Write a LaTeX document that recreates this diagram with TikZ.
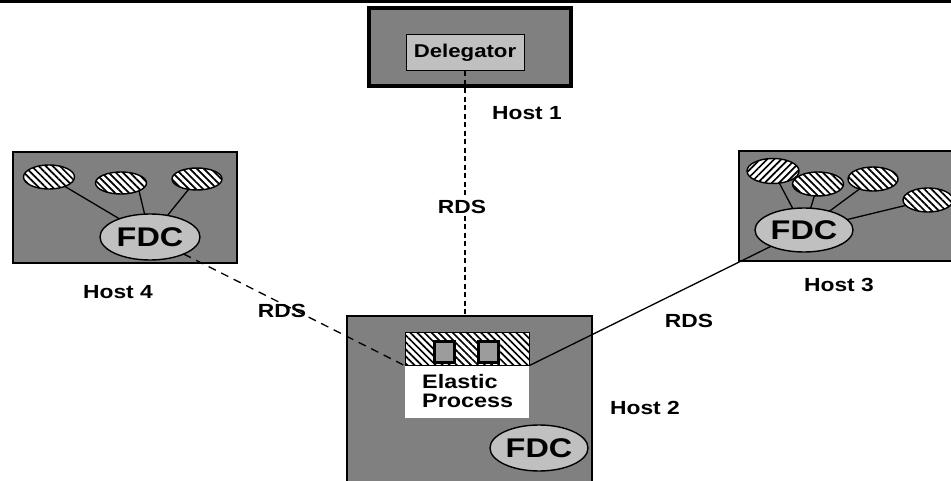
\documentclass[tikz,border=0pt]{standalone}
\usepackage{fontspec}
\setmainfont[FakeStretch=1.2]{Liberation Sans}
\usetikzlibrary{shapes.geometric,patterns.meta}
\definecolor{hostgray}{HTML}{808080}
\definecolor{lightg}{HTML}{C0C0C0}
\definecolor{midg}{HTML}{9C9C9C}
\begin{document}
\begin{tikzpicture}[x=1pt,y=-1pt,
  hostbox/.style={draw=black, fill=hostgray, line width=1.3pt, inner sep=0, outer sep=0},
  hatchNW/.style={ellipse, draw=black, line width=1.4pt, inner sep=0, outer sep=0,
     minimum width=51pt, minimum height=24pt, preaction={fill=white},
     pattern={Lines[angle=-45,distance=5pt,line width=1.7pt]}},
  hatchNE/.style={hatchNW, pattern={Lines[angle=45,distance=5pt,line width=1.7pt]}},
  fdc/.style={ellipse, draw=black, line width=1.4pt, fill=lightg, inner sep=0, outer sep=0,
     minimum width=99pt, minimum height=45pt, font=\bfseries\fontsize{27}{29}\selectfont},
  lbl/.style={font=\bfseries\fontsize{19}{21}\selectfont, inner sep=1pt},
  link/.style={line width=1.3pt},
  rdsdash/.style={line width=1.3pt, dash pattern=on 8pt off 6pt},
  vdash/.style={line width=1.3pt, dash pattern=on 5pt off 3.5pt}]
\useasboundingbox (0,0) rectangle (951,481);
\clip (0,0) rectangle (951,481);
% top bar
\fill[black] (0,0) rectangle (951,3);
% Host 1
\node[hostbox, line width=3.5pt, minimum width=202pt, minimum height=78pt] (h1) at (470,47) {};
\node[draw=black, fill=lightg, line width=1pt, minimum width=118pt, minimum height=36pt,
      inner sep=0, font=\bfseries\fontsize{18.5}{20}\selectfont] (deleg) at (465,53) {Delegator};
\node[lbl] (l1) at (527,113) {Host 1};
% Host 4
\node[hostbox, minimum width=224pt, minimum height=111pt] (h4) at (125,207.5) {};
\node[hatchNW] (e41) at (49,177) {};
\node[hatchNW, minimum height=22pt] (e42) at (121,183) {};
\node[hatchNW, minimum height=22pt, minimum width=50pt] (e43) at (197,179) {};
\node[fdc, minimum width=100pt, minimum height=46pt] (f4) at (150,237) {FDC};
\draw[link] (e41) -- (f4);
\draw[link] (e42.south east) -- (f4);
\draw[link] (e43) -- (f4);
\node[lbl] (l4) at (118,292) {Host 4};
% Host 3
\node[hostbox, minimum width=230pt, minimum height=110pt] (h3) at (854,206) {};
\node[hatchNE, minimum width=52pt, minimum height=25pt] (e31) at (773,171) {};
\node[hatchNW] (e32) at (818,184) {};
\node[hatchNW, minimum width=50pt] (e33) at (873,179) {};
\node[hatchNW, minimum width=50pt] (e34) at (928,200) {};
\node[fdc, minimum width=98pt, minimum height=44pt] (f3) at (804,230) {FDC};
\draw[link] (e31) -- (f3);
\draw[link] (e32) -- (f3);
\draw[link] (e33) -- (f3);
\draw[link] (e34) -- (f3);
\node[lbl] (l3) at (839,285) {Host 3};
% Host 2
\node[hostbox, minimum width=245pt, minimum height=190pt] (h2) at (469.5,411) {};
\node[draw=none, fill=white, minimum width=124pt, minimum height=53pt, inner sep=0] (epw) at (467,391.5) {};
\node[draw=black, line width=1pt, minimum width=124pt, minimum height=33pt, inner sep=0,
      preaction={fill=white}, pattern={Lines[angle=-45,distance=5pt,line width=1.7pt]}] (ep) at (467,348.5) {};
\node[draw=black, fill=midg, line width=3pt, minimum width=20pt, minimum height=21pt, inner sep=0] (sq1) at (444,351.5) {};
\node[draw=black, fill=midg, line width=3pt, minimum width=20pt, minimum height=21pt, inner sep=0] (sq2) at (488,351.5) {};
\node[lbl, align=left, anchor=west, font=\bfseries\fontsize{19.5}{19}\selectfont] (eptext) at (421,391) {Elastic\\Process};
\node[fdc, minimum width=98pt, minimum height=46pt] (f2) at (539,448) {FDC};
\node[lbl] (l2) at (645,408) {Host 2};
% RDS connectors
\draw[vdash] (deleg.south) -- (deleg.south |- h2.north);
\node[lbl, fill=white] (r1) at (462,207) {RDS};
\draw[rdsdash] (f4) -- (ep.south west);
\node[lbl] (r4) at (282,311) {RDS};
\draw[link] (ep.south east) -- (f3);
\node[lbl] (r3) at (689,321) {RDS};
\end{tikzpicture}
\end{document}
